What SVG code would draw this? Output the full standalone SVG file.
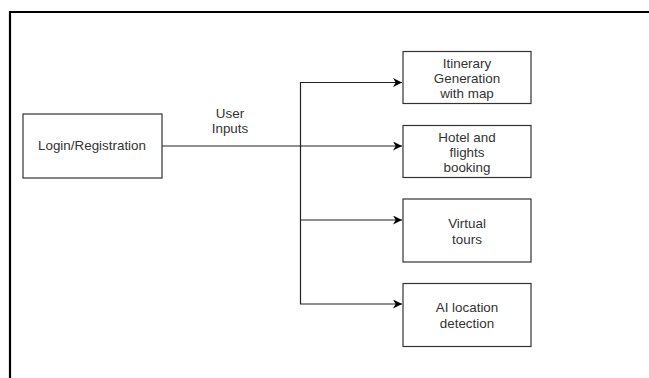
<svg xmlns="http://www.w3.org/2000/svg" width="649" height="378" viewBox="0 0 649 378">
<defs>
<style>
.box{fill:#fff;stroke:#333;stroke-width:1.2}
.t{font-family:"Liberation Sans",Arial,sans-serif;font-size:13.4px;fill:#333;text-anchor:middle}
.c{fill:none;stroke:#222;stroke-width:1.2}
.frame{fill:none;stroke:#000;stroke-width:2.2}
</style>
<marker id="ah" viewBox="0 0 10 10" refX="10" refY="5" markerWidth="10" markerHeight="9" markerUnits="userSpaceOnUse" orient="auto">
<path d="M0,0 L10,5 L0,10 L3,5 Z" fill="#000"/>
</marker>
</defs>
<rect width="649" height="378" fill="#fff"/>
<path class="frame" d="M10,378 V12 H649"/>
<g id="connectors">
<path class="c" d="M162,146 H402" marker-end="url(#ah)"/>
<path class="c" d="M300.5,146 V82.5 H402" marker-end="url(#ah)"/>
<path class="c" d="M300.5,146 V304 H402" marker-end="url(#ah)"/>
<path class="c" d="M300.5,220 H402" marker-end="url(#ah)"/>
<text class="t" x="230" y="117.5">User</text>
<text class="t" x="230" y="132.5">Inputs</text>
</g>
<g id="login">
<rect class="box" x="23" y="114" width="139" height="64"/>
<text class="t" x="92" y="150">Login/Registration</text>
</g>
<g id="itinerary">
<rect class="box" x="403" y="51.5" width="128" height="52"/>
<text class="t" x="467" y="68">Itinerary</text>
<text class="t" x="467" y="82.5">Generation</text>
<text class="t" x="467" y="97.5">with map</text>
</g>
<g id="hotel">
<rect class="box" x="403" y="125.5" width="128" height="52"/>
<text class="t" x="467" y="141.5">Hotel and</text>
<text class="t" x="467" y="156.5">flights</text>
<text class="t" x="467" y="171.5">booking</text>
</g>
<g id="virtual">
<rect class="box" x="403" y="199" width="128" height="63"/>
<text class="t" x="467" y="228">Virtual</text>
<text class="t" x="467" y="243.5">tours</text>
</g>
<g id="ai">
<rect class="box" x="403" y="283.5" width="128" height="63"/>
<text class="t" x="467" y="312">AI location</text>
<text class="t" x="467" y="327.5">detection</text>
</g>
</svg>
